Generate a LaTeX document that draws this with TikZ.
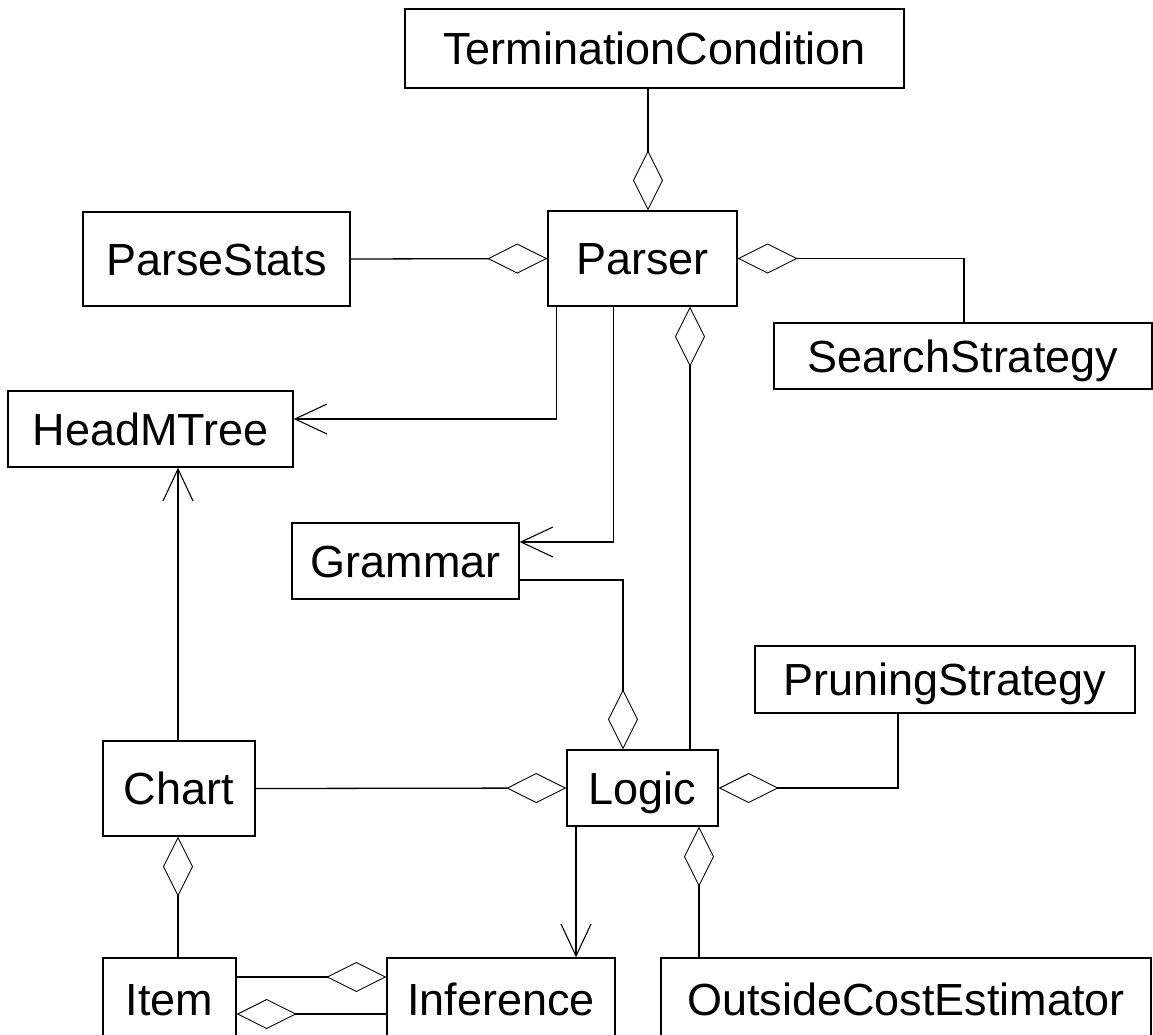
\documentclass[tikz,border=0pt]{standalone}
\usepackage{fontspec}
\setmainfont{Liberation Sans}
\usetikzlibrary{arrows.meta}
\begin{document}
\begin{tikzpicture}[x=1pt,y=-1pt,
  cls/.style={draw, line width=1.4pt, inner sep=0pt, font=\fontsize{45}{50}\selectfont,
    text height=32.2pt, text depth=0pt},
  agg/.style={line width=1.3pt, -{Diamond[open, length=60pt, width=30pt, line width=0.9pt]}},
  arr/.style={line width=1.3pt, -{Straight Barb[length=32pt, width=30pt, line width=1.1pt]}}]
\useasboundingbox (0,0) rectangle (1153,1034);
\node[cls, minimum width=499pt, minimum height=79pt] (TC) at (654.5,48.5) {TerminationCondition};
\node[cls, minimum width=267pt, minimum height=94pt] (ParseStats) at (216.5,259) {ParseStats};
\node[cls, minimum width=189pt, minimum height=95pt] (Parser) at (642.5,258.5) {Parser};
\node[cls, minimum width=378pt, minimum height=66pt] (Search) at (963,356) {SearchStrategy};
\node[cls, minimum width=285pt, minimum height=76pt] (HeadMTree) at (150.5,429) {HeadMTree};
\node[cls, minimum width=227pt, minimum height=76pt] (Grammar) at (405.5,561) {Grammar};
\node[cls, minimum width=380pt, minimum height=67pt] (Pruning) at (945,679.5) {PruningStrategy};
\node[cls, minimum width=152pt, minimum height=95pt] (Chart) at (179,788.5) {Chart};
\node[cls, minimum width=151pt, minimum height=76pt] (Logic) at (642.5,788) {Logic};
\node[cls, minimum width=133pt, minimum height=82pt] (Item) at (169.5,999) {Item};
\node[cls, minimum width=228pt, minimum height=82pt] (Inference) at (501,999) {Inference};
\node[cls, minimum width=490pt, minimum height=82pt] (OCE) at (906,999) {OutsideCostEstimator};

\draw[agg] ([xshift=-6.5pt]TC.south) -- ([xshift=5.5pt]Parser.north);
\draw[agg] (ParseStats.east) -- (Parser.west);
\draw[agg] ([xshift=1pt]Search.north) |- (Parser.east);
\draw[arr] ([xshift=9pt]Parser.south west) |- ([yshift=10pt]HeadMTree.east);
\draw[arr] ([xshift=66pt]Parser.south west) |- ([yshift=19pt]Grammar.east);
\draw[agg] ([xshift=47.5pt]Logic.north) -- ([xshift=47.5pt]Parser.south);
\draw[agg] ([yshift=-19pt]Grammar.east) -| ([xshift=-19.5pt]Logic.north);
\draw[arr] ([xshift=-1pt]Chart.north) -- ([xshift=27.5pt]HeadMTree.south);
\draw[agg] (Chart.east) -- (Logic.west);
\draw[agg] ([xshift=-47pt]Pruning.south) |- (Logic.east);
\draw[agg] ([xshift=8.5pt]Item.north) -- ([xshift=-1pt]Chart.south);
\draw[arr] ([xshift=-66.5pt]Logic.south) -- ([xshift=75pt]Inference.north);
\draw[agg] ([xshift=-207pt]OCE.north) -- ([xshift=56.5pt]Logic.south);
\draw[agg] ([yshift=22pt]Item.east) -- ([yshift=22pt]Inference.west);
\draw[agg] ([yshift=-15pt]Inference.west) -- ([yshift=-15pt]Item.east);
\end{tikzpicture}
\end{document}
